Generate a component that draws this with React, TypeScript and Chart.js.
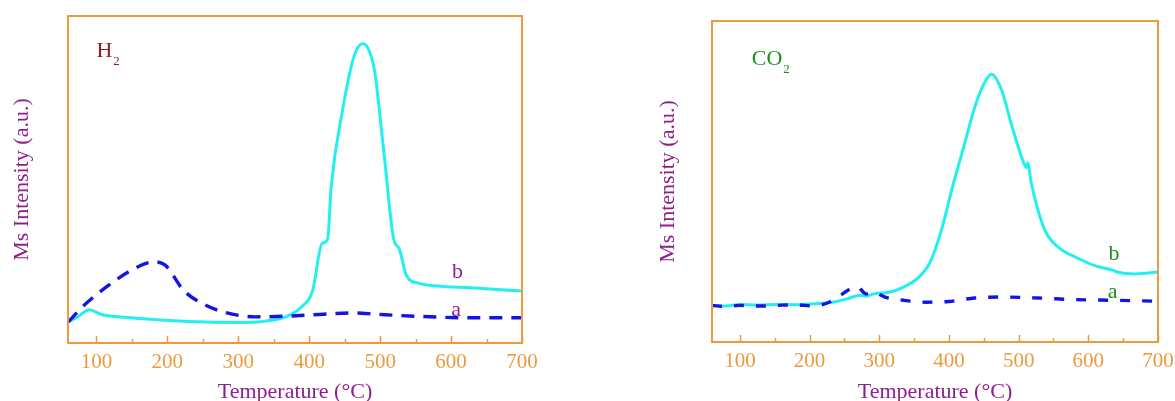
import React, { useEffect, useRef } from "react";
import { Chart, registerables } from "chart.js";
Chart.register(...registerables);

// ---- data ----
const tickLabels = [100, 200, 300, 400, 500, 600, 700];
const minorTicks = [150, 250, 350, 450, 550, 650];

const h2TempA = [60, 85, 117, 149, 181, 197, 223, 250, 282, 325, 367, 420, 463, 495, 548, 628, 700];
const h2ValA = [6.4, 12, 17.6, 22.2, 24.8, 23.8, 16.1, 12, 9.3, 8.0, 8.2, 8.8, 9.2, 8.8, 8.2, 7.7, 7.7];

const h2TempB = [60, 75, 90, 106, 149, 202, 255, 300, 335, 367, 389, 405, 418, 426, 431, 447, 463, 475, 482, 492, 506, 519, 527, 537, 554, 580, 628, 700];
const h2ValB = [6.4, 8.2, 10.2, 8.8, 7.7, 6.9, 6.4, 6.3, 6.6, 8.0, 11, 16.1, 30.4, 31.6, 47.7, 71.2, 87.5, 91.5, 90.5, 83.4, 56.9, 31.9, 28.8, 20.7, 18.3, 17.4, 16.9, 15.9];

const co2TempA = [60, 80, 99, 130, 153, 180, 206, 228, 244, 268, 281, 292, 308, 335, 367, 399, 437, 475, 528, 582, 636, 700];
const co2ValA = [11.4, 11.0, 11.4, 11.2, 11.4, 11.6, 11.2, 12.4, 14.5, 17.3, 15, 15.5, 14, 13, 12.4, 12.6, 13.7, 14, 13.7, 13.2, 13, 12.7];

const co2TempB = [60, 80, 99, 125, 153, 180, 206, 233, 255, 271, 282, 292, 314, 335, 357, 373, 389, 405, 421, 437, 450, 461, 475, 491, 507, 511, 513, 518, 528, 539, 560, 582, 609, 636, 641, 668, 700];
const co2ValB = [11.4, 11.2, 11.7, 11.5, 11.7, 11.6, 11.9, 12.4, 13.5, 14.5, 14.3, 15.0, 15.5, 17.1, 20.2, 24.9, 34.7, 48.2, 60.6, 73.1, 80.3, 83.4, 78.8, 66.8, 56, 54.4, 55.8, 49.7, 40.9, 34.2, 29, 26.4, 23.8, 22.3, 21.8, 21.2, 21.8];

// annotation labels: [text, subscript, x(temp), y(value)]
const h2Labels: [string, string, number, number][] = [
  ["H", "2", 100, 89.3],
  ["b", "", 609, 21.7],
  ["a", "", 607, 10],
];
const co2Labels: [string, string, number, number][] = [
  ["CO", "2", 117, 88.2],
  ["b", "", 637, 27.3],
  ["a", "", 635, 15.5],
];

const SERIF = '"Liberation Serif", "Times New Roman", serif';
const ORANGE = "#EC9A3E";
const PURPLE = "#8E1E8E";
const CYAN = "#22F0F0";
const BLUE = "#1414E6";

function pts(xs: number[], ys: number[]) {
  return xs.map((x, i) => ({ x, y: ys[i] }));
}

const framePlugin = {
  id: "frame",
  afterDraw(chart: any) {
    const { ctx, chartArea } = chart;
    const xs = chart.scales.x;
    ctx.save();
    ctx.strokeStyle = ORANGE;
    ctx.lineWidth = 2;
    ctx.strokeRect(chartArea.left, chartArea.top, chartArea.right - chartArea.left, chartArea.bottom - chartArea.top);
    ctx.lineWidth = 1.5;
    ctx.beginPath();
    tickLabels.forEach((t) => {
      const px = Math.round(xs.getPixelForValue(t)) + 0.5;
      ctx.moveTo(px, chartArea.bottom);
      ctx.lineTo(px, chartArea.bottom - 7);
    });
    minorTicks.forEach((t) => {
      const px = Math.round(xs.getPixelForValue(t)) + 0.5;
      ctx.moveTo(px, chartArea.bottom);
      ctx.lineTo(px, chartArea.bottom - 4);
    });
    ctx.stroke();
    // annotations
    const labels = chart.options.plugins.frame.labels as [string, string, number, number][];
    const colors = chart.options.plugins.frame.colors as string[];
    labels.forEach(([txt, sub, tx, ty], i) => {
      const px = xs.getPixelForValue(tx);
      const py = chart.scales.y.getPixelForValue(ty);
      ctx.fillStyle = colors[i];
      ctx.textBaseline = "middle";
      ctx.textAlign = sub ? "left" : "center";
      ctx.font = `22px ${SERIF}`;
      ctx.fillText(txt, px, py);
      if (sub) {
        const w = ctx.measureText(txt).width;
        ctx.font = `13px ${SERIF}`;
        ctx.fillText(sub, px + w + 1, py + 11);
      }
    });
    ctx.restore();
  },
};

function makeConfig(
  dataA: { x: number; y: number }[],
  dataB: { x: number; y: number }[],
  labels: [string, string, number, number][],
  colors: string[],
  pad: { top: number; right: number },
  yWidth: number,
  yTitlePad: number,
  xHeight: number,
  dash: number[]
): any {
  return {
    type: "line",
    data: {
      datasets: [
        {
          label: "a",
          data: dataA,
          borderColor: BLUE,
          borderWidth: 3.4,
          borderDash: dash,
          pointRadius: 0,
          cubicInterpolationMode: "monotone",
          fill: false,
        },
        {
          label: "b",
          data: dataB,
          borderColor: CYAN,
          borderWidth: 3,
          pointRadius: 0,
          cubicInterpolationMode: "monotone",
          fill: false,
        },
      ],
    },
    options: {
      animation: false,
      responsive: false,
      devicePixelRatio: 1,
      layout: { padding: { top: pad.top, right: pad.right, bottom: 0, left: 0 } },
      plugins: {
        legend: { display: false },
        tooltip: { enabled: false },
        frame: { labels, colors },
      },
      scales: {
        x: {
          type: "linear",
          min: 60,
          max: 700,
          afterBuildTicks: (s: any) => {
            s.ticks = tickLabels.map((v) => ({ value: v }));
          },
          afterFit: (s: any) => {
            s.height = xHeight;
            s.paddingLeft = 0;
            s.paddingRight = 0;
          },
          grid: { display: false, drawTicks: false },
          border: { display: false },
          ticks: {
            color: ORANGE,
            font: { family: SERIF, size: 21 },
            padding: 7,
            maxRotation: 0,
            autoSkip: false,
          },
          title: {
            display: true,
            text: "Temperature (°C)",
            color: PURPLE,
            font: { family: SERIF, size: 22, lineHeight: 0.8 },
            padding: { top: 0, bottom: 0 },
          },
        },
        y: {
          type: "linear",
          min: 0,
          max: 100,
          afterFit: (s: any) => {
            s.width = yWidth;
          },
          grid: { display: false, drawTicks: false },
          border: { display: false },
          ticks: { display: false },
          title: {
            display: true,
            text: "Ms Intensity (a.u.)",
            color: PURPLE,
            font: { family: SERIF, size: 22, lineHeight: 1 },
            padding: { top: yTitlePad, bottom: 0 },
          },
        },
      },
    },
    plugins: [framePlugin],
  };
}

function Panel(props: { left: number; width: number; config: any }) {
  const ref = useRef<HTMLCanvasElement | null>(null);
  useEffect(() => {
    if (!ref.current) return;
    const chart = new Chart(ref.current, props.config);
    return () => chart.destroy();
  }, []);
  return (
    <canvas
      ref={ref}
      width={props.width}
      height={401}
      style={{ position: "absolute", left: props.left, top: 0, width: props.width, height: 401 }}
    />
  );
}

export default function App() {
  const cfg1 = makeConfig(
    pts(h2TempA, h2ValA),
    pts(h2TempB, h2ValB),
    h2Labels,
    ["#8E1E1E", PURPLE, PURPLE],
    { top: 16, right: 68 },
    68,
    11,
    58,
    [13, 9]
  );
  const cfg2 = makeConfig(
    pts(co2TempA, co2ValA),
    pts(co2TempB, co2ValB),
    co2Labels,
    ["#1E8E1E", "#1E8E1E", "#1E8E1E"],
    { top: 21, right: 17 },
    122,
    67,
    59,
    [10, 12]
  );
  return (
    <div style={{ position: "absolute", left: 0, top: 0, width: 1175, height: 401, background: "#fff", overflow: "hidden" }}>
      <Panel left={0} width={590} config={cfg1} />
      <Panel left={590} width={585} config={cfg2} />
    </div>
  );
}
